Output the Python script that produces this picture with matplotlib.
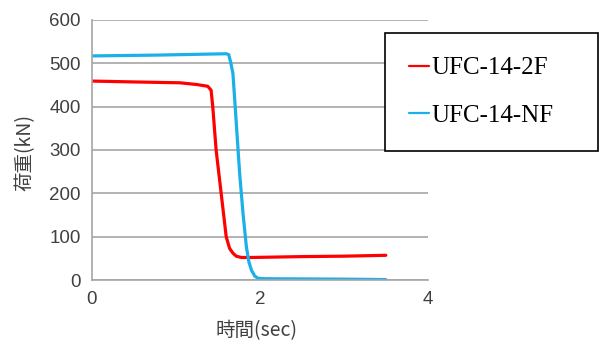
import numpy as np
import matplotlib.pyplot as plt

plt.rcParams['font.family'] = ['Liberation Sans', 'Noto Sans CJK JP', 'DejaVu Sans']

# load-time histories read from the test record
t_2f = [0.0, 0.5, 1.05, 1.25, 1.38, 1.42, 1.44, 1.48, 1.54, 1.60, 1.64,
        1.68, 1.72, 1.78, 1.90, 2.5, 3.0, 3.5]
p_2f = [459, 457, 455, 451, 447, 438, 400, 300, 200, 100, 73,
        62, 55, 52, 52, 54, 55, 57]

t_nf = [0.0, 0.8, 1.60, 1.63, 1.65, 1.68, 1.72, 1.76, 1.80, 1.84, 1.87,
        1.90, 1.94, 1.98, 2.05, 3.0, 3.5]
p_nf = [517, 519, 522, 520, 505, 477, 362, 246, 154, 77, 42,
        23, 9, 4, 3, 2, 1]

labels = ["UFC-14-2F", "UFC-14-NF"]
colors = ["#ff0000", "#1ab0ea"]

fig = plt.figure(figsize=(6.0, 3.44), dpi=100)
ax = fig.add_axes([0.153, 0.186, 0.56, 0.756])

ax.plot(t_2f, p_2f, color=colors[0], lw=2.3, label=labels[0],
        solid_capstyle='round', solid_joinstyle='round')
ax.plot(t_nf, p_nf, color=colors[1], lw=2.3, label=labels[1],
        solid_capstyle='round', solid_joinstyle='round')

ax.set_xlim(0, 4)
ax.set_ylim(0, 600)
ax.set_xticks([0, 2, 4])
ax.set_yticks(range(0, 601, 100))
ax.grid(axis='y', color='#a6a6a6', lw=1.2)
ax.set_axisbelow(True)
for s in ['top', 'right']:
    ax.spines[s].set_visible(False)
for s in ['left', 'bottom']:
    ax.spines[s].set_color('#a6a6a6')
    ax.spines[s].set_linewidth(1.2)
ax.tick_params(length=0, labelsize=13.5, labelcolor='#404040', pad=8)

jp = ['Noto Sans CJK JP', 'DejaVu Sans']
fig.text(0.042, 0.558, "荷重(kN)", rotation=90, ha='center', va='center',
         fontsize=14, family=jp, color='#404040')
fig.text(0.428, 0.04, "時間(sec)", ha='center', va='center',
         fontsize=14, family=jp, color='#404040')

leg = fig.legend(loc='upper left', bbox_to_anchor=(0.642, 0.570, 0.355, 0.334),
                 mode='expand', prop={'family': 'Liberation Serif', 'size': 18},
                 handlelength=0.8, handletextpad=0.1, labelspacing=1.0,
                 borderpad=0.95, borderaxespad=0, fancybox=False, framealpha=1)
leg.get_frame().set_edgecolor('black')
leg.get_frame().set_linewidth(1.2)
for line in leg.get_lines():
    line.set_linewidth(1.6)

fig.savefig("out.png", dpi=100)
